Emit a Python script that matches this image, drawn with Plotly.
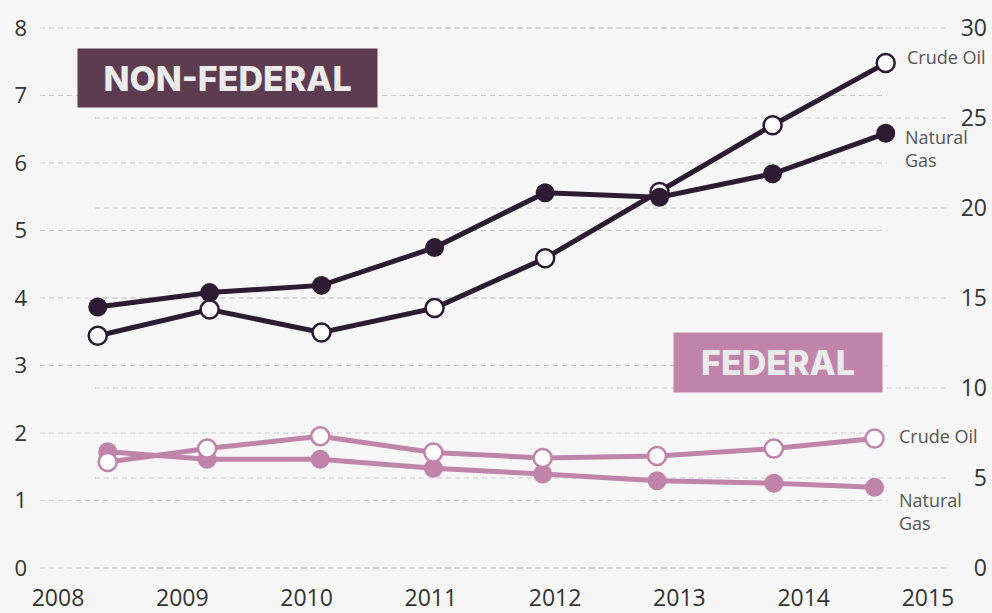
import plotly.graph_objects as go

# ---- data ----
year_ticks = [2008, 2009, 2010, 2011, 2012, 2013, 2014, 2015]
nonfed_x = [2008.32, 2009.22, 2010.12, 2011.03, 2011.92, 2012.84, 2013.75, 2014.66]
fed_x = [2008.40, 2009.20, 2010.11, 2011.02, 2011.90, 2012.82, 2013.76, 2014.57]

nonfed_crude = [3.44, 3.83, 3.49, 3.85, 4.59, 5.57, 6.56, 7.48]      # left axis
nonfed_gas = [14.5, 15.3, 15.7, 17.8, 20.85, 20.6, 21.9, 24.15]      # right axis
fed_crude = [1.57, 1.77, 1.95, 1.71, 1.63, 1.66, 1.77, 1.92]         # left axis
fed_gas = [6.46, 6.04, 6.04, 5.54, 5.22, 4.85, 4.71, 4.48]           # right axis

left_ticks = [0, 1, 2, 3, 4, 5, 6, 7, 8]
right_ticks = [0, 5, 10, 15, 20, 25, 30]

# ---- style ----
DARK = "#2c1b33"
PINK = "#c083aa"
BOX_DARK = "#5d3b51"
BG = "#f6f6f6"
LEFT_TICK_FONT = dict(family="Open Sans", size=22, color="#333333")
RIGHT_TICK_FONT = dict(family="Open Sans", size=23, color="#333333")
X_TICK_FONT = dict(family="Open Sans", size=23, color="#333333")
LABEL_FONT = dict(family="Open Sans", size=18, color="#555555")

W, H = 992, 613
ML, MR = 40, 2
PLOT_TOP_PX, PLOT_BOT_PX = 28, 568   # where the top/bottom ticks sit
PAD = 18
MT, MB = PLOT_TOP_PX - PAD, H - PLOT_BOT_PX - PAD
PAPER_W = W - ML - MR
PAPER_H = H - MT - MB


def px_x(px):
    return (px - ML) / PAPER_W


def px_y(py):
    return (H - MB - py) / PAPER_H


fig = go.Figure()

fig.add_trace(go.Scatter(
    x=nonfed_x, y=nonfed_crude, yaxis="y", mode="lines+markers",
    line=dict(color=DARK, width=5),
    marker=dict(size=18, color="white", line=dict(color=DARK, width=2.5)),
    showlegend=False, hoverinfo="skip"))
fig.add_trace(go.Scatter(
    x=nonfed_x, y=nonfed_gas, yaxis="y2", mode="lines+markers",
    line=dict(color=DARK, width=5),
    marker=dict(size=19, color=DARK),
    showlegend=False, hoverinfo="skip"))
fig.add_trace(go.Scatter(
    x=fed_x, y=fed_gas, yaxis="y2", mode="lines+markers",
    line=dict(color=PINK, width=5),
    marker=dict(size=19, color=PINK),
    showlegend=False, hoverinfo="skip"))
fig.add_trace(go.Scatter(
    x=fed_x, y=fed_crude, yaxis="y3", mode="lines+markers",
    line=dict(color=PINK, width=5),
    marker=dict(size=18, color="white", line=dict(color=PINK, width=2.5)),
    showlegend=False, hoverinfo="skip"))

span = PLOT_BOT_PX - PLOT_TOP_PX
px_left = span / left_ticks[-1]
px_right = span / right_ticks[-1]
left_range = [-PAD / px_left, left_ticks[-1] + PAD / px_left]
right_range = [-PAD / px_right, right_ticks[-1] + PAD / px_right]

X_DOMAIN_END = px_x(950)
x_lo = 2008 - (58 - ML) / 124.28
x_hi = x_lo + (950 - ML) / 124.28

fig.update_layout(
    width=W, height=H,
    margin=dict(l=ML, r=MR, t=MT, b=MB, autoexpand=False),
    paper_bgcolor=BG, plot_bgcolor=BG,
    xaxis=dict(domain=[0, X_DOMAIN_END], range=[x_lo, x_hi],
               anchor="free", position=px_y(582),
               tickvals=year_ticks, ticktext=[str(y) for y in year_ticks],
               showgrid=False, zeroline=False, showline=False, automargin=False,
               tickfont=X_TICK_FONT, ticklabelstandoff=0),
    yaxis=dict(range=left_range, tickvals=left_ticks, showgrid=False,
               zeroline=False, showline=False, tickfont=LEFT_TICK_FONT,
               ticklabelstandoff=12, automargin=False),
    yaxis2=dict(range=right_range, tickvals=right_ticks, overlaying="y",
                side="right", anchor="free", position=1.0,
                ticklabelposition="inside", showgrid=False, zeroline=False,
                showline=False, tickfont=RIGHT_TICK_FONT, automargin=False),
    yaxis3=dict(range=left_range, overlaying="y", visible=False),
    showlegend=False,
)

# dashed gridlines: left axis grid and right axis grid have different spans
GRID = dict(color="#c9c9c9", width=1, dash="5px,4px")
for v in left_ticks:
    fig.add_shape(type="line", xref="paper", yref="y",
                  x0=0, x1=px_x(887), y0=v, y1=v, line=GRID, layer="below")
for v in right_ticks:
    fig.add_shape(type="line", xref="paper", yref="y2",
                  x0=px_x(95), x1=X_DOMAIN_END, y0=v, y1=v, line=GRID, layer="below")

# series end labels
fig.add_annotation(x=nonfed_x[-1], y=nonfed_crude[-1], xref="x", yref="y",
                   text="Crude Oil", showarrow=False, xanchor="left", yanchor="middle",
                   xshift=19, yshift=6, font=LABEL_FONT, align="left")
fig.add_annotation(x=nonfed_x[-1], y=nonfed_gas[-1], xref="x", yref="y2",
                   text="Natural<br>Gas", showarrow=False, xanchor="left", yanchor="middle",
                   xshift=17, yshift=-15, font=LABEL_FONT, align="left")
fig.add_annotation(x=fed_x[-1], y=fed_crude[-1], xref="x", yref="y3",
                   text="Crude Oil", showarrow=False, xanchor="left", yanchor="middle",
                   xshift=22, yshift=2, font=LABEL_FONT, align="left")
fig.add_annotation(x=fed_x[-1], y=fed_gas[-1], xref="x", yref="y2",
                   text="Natural<br>Gas", showarrow=False, xanchor="left", yanchor="middle",
                   xshift=22, yshift=-24, font=LABEL_FONT, align="left")

# section boxes
BOX_FONT = dict(family="Inter", size=34, color="#ebebeb", weight=800)
fig.add_annotation(x=px_x(227.5), y=px_y(78), xref="paper", yref="paper",
                   text="NON-FEDERAL", showarrow=False, bgcolor=BOX_DARK,
                   width=299, height=58, borderpad=0, font=BOX_FONT,
                   xanchor="center", yanchor="middle")
fig.add_annotation(x=px_x(778), y=px_y(362.5), xref="paper", yref="paper",
                   text="FEDERAL", showarrow=False, bgcolor=PINK,
                   width=208, height=59, borderpad=0, font=BOX_FONT,
                   xanchor="center", yanchor="middle")

fig.write_html("out.html", config={"displayModeBar": False},
               post_script="document.body.style.margin='0';document.body.style.padding='0';")
